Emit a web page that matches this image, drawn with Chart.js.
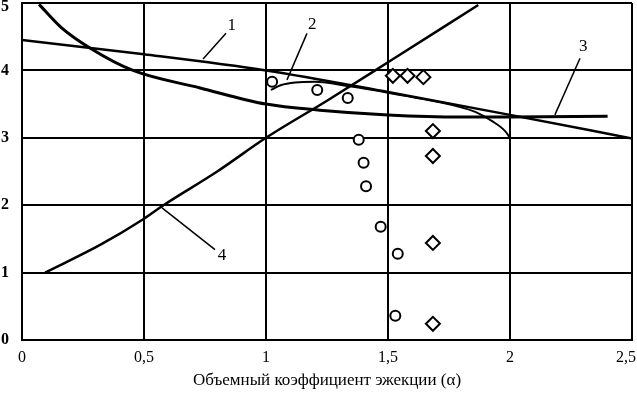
<!DOCTYPE html>
<html lang="ru">
<head>
    <meta charset="UTF-8">
    <title>Объемный коэффициент эжекции</title>
    <script src="https://cdn.jsdelivr.net/npm/chart.js"></script>
    <style>
        body {
            margin: 0;
            background-color: white;
        }
        canvas {
            display: block;
        }
    </style>
</head>
<body>

<canvas id="ejectionChart" width="637" height="394"></canvas>

<script>
    // curve 1 - almost straight line
    const curve1X = [0, 0.5, 1, 1.5, 2, 2.5];
    const curve1Y = [4.45, 4.24, 4.0, 3.68, 3.34, 2.99];

    // curve 2 - short thin one, drops to (2, 3)
    const curve2X = [1.02, 1.06, 1.12, 1.2, 1.35, 1.5, 1.65, 1.78, 1.86, 1.93, 1.98, 2.0];
    const curve2Y = [3.71, 3.78, 3.82, 3.83, 3.76, 3.67, 3.57, 3.47, 3.38, 3.24, 3.1, 3.0];

    // curve 3 - falling, then flat
    const curve3X = [0.07, 0.16, 0.28, 0.455, 0.73, 1.0, 1.22, 1.5, 1.8, 2.0, 2.4];
    const curve3Y = [4.98, 4.64, 4.33, 4.0, 3.74, 3.5, 3.41, 3.34, 3.31, 3.31, 3.32];

    // curve 4 - rising
    const curve4X = [0.095, 0.32, 0.5, 0.58, 0.8, 1.0, 1.25, 1.5, 1.87];
    const curve4Y = [1.0, 1.41, 1.8, 2.0, 2.5, 3.0, 3.55, 4.12, 4.97];

    // measured points
    const circlesX = [1.025, 1.21, 1.335, 1.38, 1.40, 1.41, 1.47, 1.54, 1.53];
    const circlesY = [3.83, 3.71, 3.59, 2.97, 2.63, 2.28, 1.68, 1.28, 0.36];
    const diamondsX = [1.52, 1.58, 1.645, 1.684, 1.684, 1.684, 1.684];
    const diamondsY = [3.92, 3.92, 3.9, 3.1, 2.73, 1.44, 0.24];

    // curve numbers and their leader lines
    const labelText = ['1', '2', '3', '4'];
    const labelX = [0.86, 1.19, 2.3, 0.82];
    const labelY = [4.67, 4.68, 4.36, 1.25];
    const leaderX = [[0.742, 0.836], [1.086, 1.168], [2.184, 2.287], [0.574, 0.791]];
    const leaderY = [[4.17, 4.55], [3.86, 4.55], [3.34, 4.18], [1.96, 1.34]];

    const xTicks = [0, 0.5, 1, 1.5, 2, 2.5];
    const yTicks = [0, 1, 2, 3, 4, 5];

    const xTitle = 'Объемный коэффициент эжекции (α)';

    function toPoints(xs, ys) {
        return xs.map((x, i) => ({ x: x, y: ys[i] }));
    }

    function curve(xs, ys, width) {
        return {
            data: toPoints(xs, ys),
            showLine: true,
            borderColor: '#000',
            borderWidth: width,
            pointRadius: 0,
            cubicInterpolationMode: 'monotone',
            fill: false
        };
    }

    const datasets = [
        curve(curve1X, curve1Y, 2.5),
        curve(curve2X, curve2Y, 2),
        curve(curve3X, curve3Y, 3),
        curve(curve4X, curve4Y, 2.5)
    ];

    leaderX.forEach((xs, i) => {
        datasets.push({
            data: toPoints(xs, leaderY[i]),
            showLine: true,
            borderColor: '#000',
            borderWidth: 1.5,
            pointRadius: 0
        });
    });

    datasets.push({
        data: toPoints(circlesX, circlesY),
        pointStyle: 'circle',
        pointRadius: 5,
        borderColor: '#000',
        borderWidth: 2,
        backgroundColor: '#fff'
    });
    datasets.push({
        data: toPoints(diamondsX, diamondsY),
        pointStyle: 'rectRot',
        pointRadius: 7,
        borderColor: '#000',
        borderWidth: 2,
        backgroundColor: '#fff'
    });

    const serif = '"Liberation Serif", "Times New Roman", serif';

    const numberLabels = {
        id: 'numberLabels',
        afterDatasetsDraw(chart) {
            const ctx = chart.ctx;
            const xs = chart.scales.x;
            const ys = chart.scales.y;
            ctx.save();
            ctx.font = '17px ' + serif;
            ctx.fillStyle = '#000';
            ctx.textAlign = 'center';
            ctx.textBaseline = 'middle';
            labelText.forEach((t, i) => {
                ctx.fillText(t, xs.getPixelForValue(labelX[i]), ys.getPixelForValue(labelY[i]));
            });
            ctx.restore();
        }
    };

    new Chart(document.getElementById('ejectionChart'), {
        type: 'scatter',
        data: { datasets: datasets },
        plugins: [numberLabels],
        options: {
            responsive: false,
            animation: false,
            devicePixelRatio: 1,
            layout: {
                autoPadding: false,
                padding: { top: 3, right: 5, left: 0, bottom: 0 }
            },
            plugins: {
                legend: { display: false },
                tooltip: { enabled: false }
            },
            scales: {
                x: {
                    type: 'linear',
                    min: 0,
                    max: 2.5,
                    afterBuildTicks: axis => { axis.ticks = xTicks.map(v => ({ value: v })); },
                    afterFit: axis => {
                        axis.height = 54;
                        axis.paddingLeft = 0;
                        axis.paddingRight = 0;
                    },
                    grid: { color: '#000', lineWidth: 2, drawTicks: false },
                    border: { color: '#000', width: 2 },
                    ticks: {
                        color: '#000',
                        padding: 8,
                        maxRotation: 0,
                        font: { family: serif, size: 16 },
                        // last label sits against the edge, pad it so it stays visible
                        callback: v => v === 2.5 ? '2,5   ' : String(v).replace('.', ',')
                    },
                    title: {
                        display: true,
                        text: xTitle,
                        color: '#000',
                        font: { family: serif, size: 17 },
                        padding: { top: 0, bottom: 3 }
                    }
                },
                y: {
                    type: 'linear',
                    min: 0,
                    max: 5,
                    afterBuildTicks: axis => { axis.ticks = yTicks.map(v => ({ value: v })); },
                    afterFit: axis => {
                        axis.width = 22;
                        axis.paddingTop = 0;
                        axis.paddingBottom = 0;
                    },
                    grid: { color: '#000', lineWidth: 2, drawTicks: false },
                    border: { color: '#000', width: 2 },
                    ticks: {
                        color: '#000',
                        padding: 13,
                        // top label would be cut by the canvas edge, push it down a bit
                        callback: v => v === 5 ? ['', '5'] : String(v),
                        font: c => ({
                            family: serif,
                            size: 16,
                            weight: 'bold',
                            lineHeight: c.tick && c.tick.value === 5 ? 0.45 : 1.2
                        })
                    }
                }
            }
        }
    });
</script>

</body>
</html>
